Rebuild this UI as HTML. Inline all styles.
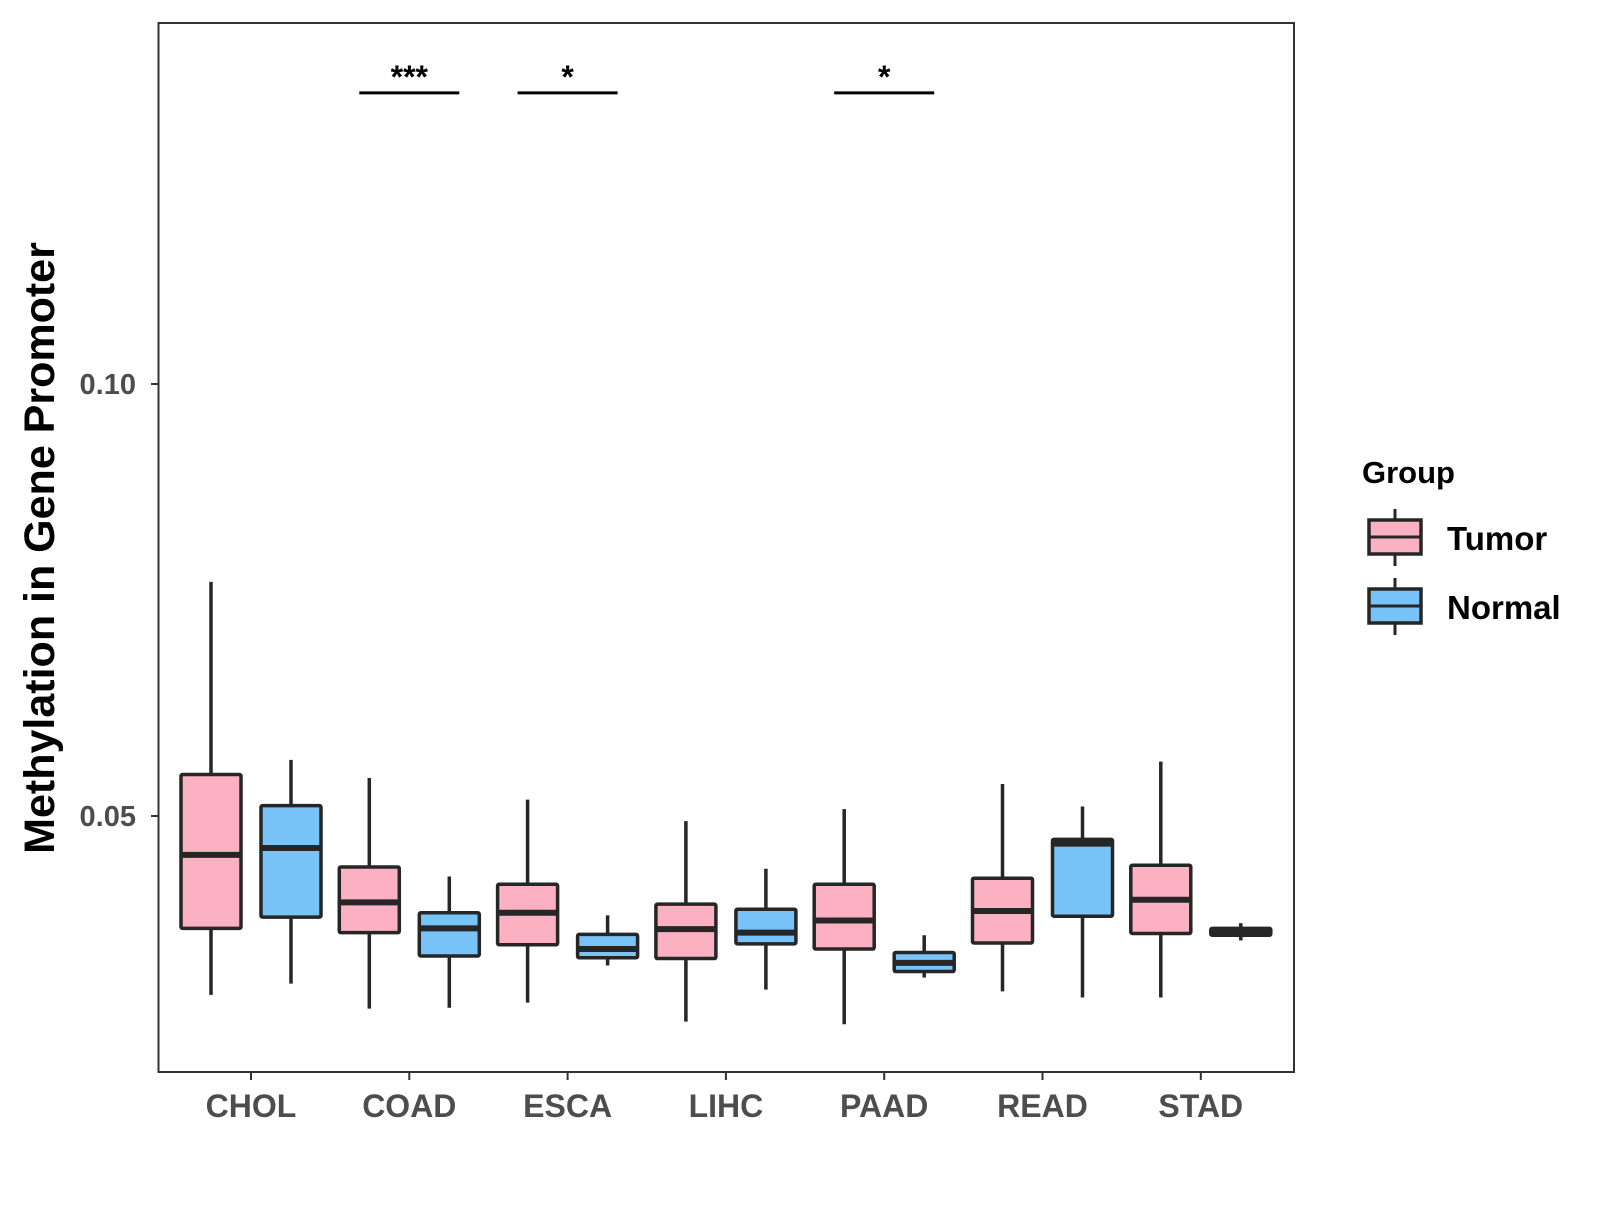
<!DOCTYPE html>
<html><head><meta charset="utf-8"><style>
body{margin:0;background:#fff}
svg text{font-family:"Liberation Sans",Arial,sans-serif;font-weight:bold}
</style></head><body>
<svg id="chart" width="1600" height="1200" xmlns="http://www.w3.org/2000/svg">
<rect x="0" y="0" width="1600" height="1200" fill="#fff"/>
<g id="plot"></g>
<rect x="158.5" y="23" width="1135.5" height="1049" fill="none" stroke="#333" stroke-width="2"/>
<text x="54" y="548" transform="rotate(-90 54 548)" text-anchor="middle" font-size="43" fill="#000">Methylation in Gene Promoter</text>
<g>
<text x="1362" y="483" font-size="31" fill="#000">Group</text>
<g>
<line x1="1395" y1="509" x2="1395" y2="566" stroke="#262626" stroke-width="3"/>
<rect x="1369" y="520" width="52" height="34" fill="#fbb1c2" stroke="#262626" stroke-width="3.5"/>
<line x1="1369" y1="537" x2="1421" y2="537" stroke="#262626" stroke-width="3"/>
<text x="1447" y="550" font-size="33" fill="#000">Tumor</text></g>
<g>
<line x1="1395" y1="578" x2="1395" y2="635" stroke="#262626" stroke-width="3"/>
<rect x="1369" y="589" width="52" height="34" fill="#78c3f8" stroke="#262626" stroke-width="3.5"/>
<line x1="1369" y1="606" x2="1421" y2="606" stroke="#262626" stroke-width="3"/>
<text x="1447" y="619" font-size="33" fill="#000">Normal</text></g>
</g>
</svg>
<script>
const categories=["CHOL","COAD","ESCA","LIHC","PAAD","READ","STAD"];
// [lower whisker, Q1, median, Q3, upper whisker]
const tumorStats=[[0.0293,0.0370,0.0455,0.0548,0.0771],[0.0277,0.0365,0.0400,0.0441,0.0544],[0.0284,0.0351,0.0388,0.0421,0.0519],[0.0262,0.0335,0.0369,0.0398,0.0494],[0.0259,0.0346,0.0379,0.0421,0.0508],[0.0297,0.0353,0.0390,0.0428,0.0537],[0.0290,0.0364,0.0403,0.0443,0.0563]];
const normalStats=[[0.0306,0.0383,0.0463,0.0512,0.0565],[0.0278,0.0338,0.0370,0.0388,0.0430],[0.0327,0.0336,0.0346,0.0363,0.0385],[0.0299,0.0352,0.0365,0.0392,0.0439],[0.0313,0.0320,0.0330,0.0342,0.0362],[0.0290,0.0384,0.0468,0.0473,0.0511],[0.0356,0.0362,0.0366,0.0370,0.0376]];
const yTicks=[0.05,0.10];
const yTickLabels=["0.05","0.10"];
const sigCategories=["COAD","ESCA","PAAD"];
const sigLabels=["***","*","*"];
const sigLevel=0.1337;

const NS="http://www.w3.org/2000/svg";
const g=document.getElementById('plot');
const y=v=>816-(v-0.05)*8640;
const x=i=>251+i*158.3;
function el(t,a){const e=document.createElementNS(NS,t);for(const k in a)e.setAttribute(k,a[k]);g.appendChild(e);return e;}
yTicks.forEach((v,i)=>{
 const t=el('line',{x1:151,x2:158,y1:y(v),y2:y(v),stroke:'#333','stroke-width':2});
 
 
 const l=el('text',{x:136,y:y(v)+10,'text-anchor':'end','font-size':29,fill:'#4d4d4d'});
 l.textContent=yTickLabels[i];
 
 
});
categories.forEach((c,i)=>{
 const t=el('line',{x1:x(i),x2:x(i),y1:1072,y2:1080,stroke:'#333','stroke-width':2});
 
 
 const l=el('text',{x:x(i),y:1117,'text-anchor':'middle','font-size':32,fill:'#4d4d4d'});
 l.textContent=c;
 
 
});
function box(s,cx,fill,name){
 const grp=document.createElementNS(NS,'g');g.appendChild(grp);
 
 
 const mk=(t,a)=>{const e=document.createElementNS(NS,t);for(const k in a)e.setAttribute(k,a[k]);grp.appendChild(e);};
 mk('line',{x1:cx,x2:cx,y1:y(s[0]),y2:y(s[4]),stroke:'#262626','stroke-width':3.5});
 mk('rect',{x:cx-30,y:y(s[3]),width:60,height:Math.max(0.5,y(s[1])-y(s[3])),fill:fill,stroke:'#262626','stroke-width':3.5,rx:1.5});
 mk('line',{x1:cx-30,x2:cx+30,y1:y(s[2]),y2:y(s[2]),stroke:'#262626','stroke-width':6});
}
categories.forEach((c,i)=>{
 box(tumorStats[i],x(i)-40,'#fbb1c2','box-tumor-'+c.toLowerCase());
 box(normalStats[i],x(i)+40,'#78c3f8','box-normal-'+c.toLowerCase());
});
sigCategories.forEach((c,k)=>{
 const i=categories.indexOf(c);
 const ln=el('line',{x1:x(i)-50,x2:x(i)+50,y1:y(sigLevel),y2:y(sigLevel),stroke:'#000','stroke-width':3});
 
 
 const t=el('text',{x:x(i),y:y(sigLevel)-5,'text-anchor':'middle','font-size':32,fill:'#000'});
 t.textContent=sigLabels[k];
 
 
});
</script>
</body></html>
